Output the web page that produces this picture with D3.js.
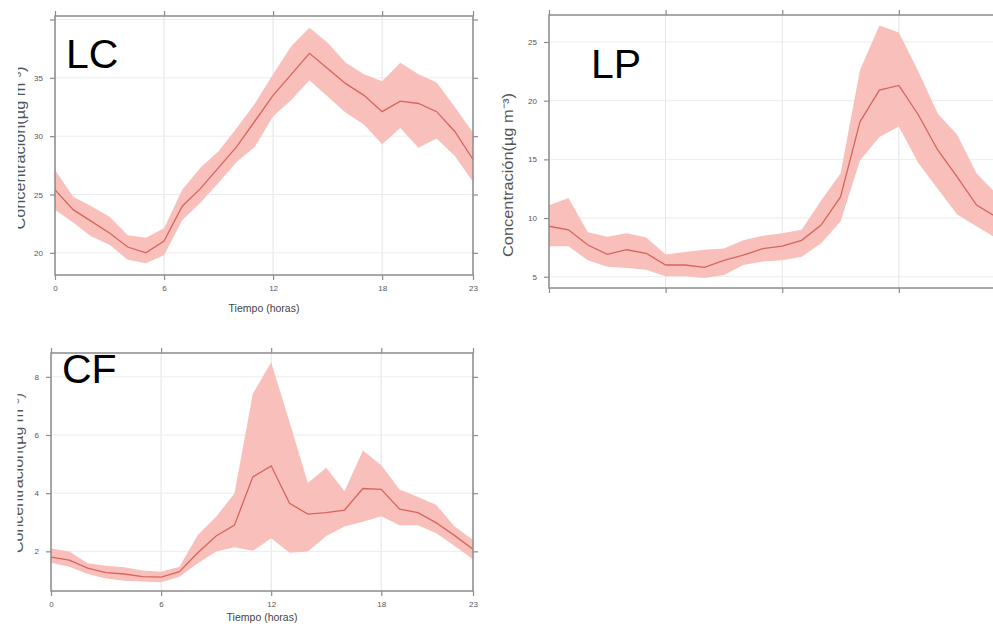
<!DOCTYPE html>
<html>
<head>
<meta charset="utf-8">
<script src="https://cdn.jsdelivr.net/npm/d3@7.9.0/dist/d3.min.js"></script>
<style>
  body { margin: 0; background: #fff; }
  svg { display: block; font-family: "Liberation Sans", Arial, sans-serif; }
</style>
</head>
<body>
<svg id="chart" width="993" height="626"></svg>
<script>
// hour of day
const hours = [0, 1, 2, 3, 4, 5, 6, 7, 8, 9, 10, 11, 12, 13, 14, 15, 16, 17, 18, 19, 20, 21, 22, 23];
const hourTicks = [0, 6, 12, 18, 23];

// LC
const lcMean  = [25.4, 23.7, 22.7, 21.7, 20.5, 20.0, 21.0, 24.0, 25.5, 27.3, 29.1, 31.3, 33.5, 35.3, 37.1, 35.8, 34.5, 33.5, 32.1, 33.0, 32.8, 32.1, 30.4, 28.0];
const lcUpper = [27.1, 24.8, 24.0, 23.1, 21.5, 21.3, 22.1, 25.4, 27.3, 28.7, 30.7, 32.8, 35.3, 37.7, 39.3, 38.0, 36.3, 35.3, 34.7, 36.3, 35.3, 34.6, 32.5, 30.3];
const lcLower = [23.7, 22.6, 21.4, 20.7, 19.4, 19.1, 19.8, 22.8, 24.3, 26.0, 27.8, 29.1, 31.7, 33.1, 34.8, 33.4, 32.0, 31.0, 29.3, 30.7, 29.0, 29.8, 28.3, 26.1];
const lcTicks = [20, 25, 30, 35, 40];

// LP
const lpMean  = [9.3, 9.0, 7.7, 6.9, 7.3, 7.0, 6.0, 6.0, 5.8, 6.4, 6.85, 7.4, 7.6, 8.1, 9.4, 11.8, 18.2, 20.9, 21.3, 18.8, 15.8, 13.5, 11.1, 10.1];
const lpUpper = [11.1, 11.7, 8.8, 8.4, 8.7, 8.35, 6.9, 7.1, 7.3, 7.4, 8.1, 8.5, 8.7, 9.0, 11.5, 13.8, 22.6, 26.4, 25.8, 22.5, 18.9, 17.1, 13.8, 12.1];
const lpLower = [7.6, 7.6, 6.4, 5.85, 5.75, 5.6, 5.05, 5.05, 4.9, 5.15, 6.0, 6.3, 6.4, 6.7, 7.85, 9.7, 14.9, 16.9, 17.8, 14.7, 12.5, 10.3, 9.3, 8.3];
const lpTicks = [5, 10, 15, 20, 25];

// CF
const cfMean  = [1.8, 1.7, 1.42, 1.27, 1.22, 1.13, 1.11, 1.3, 1.95, 2.53, 2.9, 4.56, 4.94, 3.65, 3.28, 3.33, 3.42, 4.16, 4.13, 3.45, 3.33, 2.98, 2.54, 2.07];
const cfUpper = [2.1, 1.99, 1.59, 1.5, 1.45, 1.34, 1.3, 1.47, 2.56, 3.19, 3.99, 7.42, 8.5, 6.45, 4.35, 4.87, 4.07, 5.47, 4.96, 4.13, 3.87, 3.59, 2.85, 2.39];
const cfLower = [1.61, 1.47, 1.22, 1.07, 0.99, 0.96, 0.94, 1.13, 1.59, 1.99, 2.14, 2.02, 2.45, 1.95, 1.99, 2.53, 2.85, 3.02, 3.21, 2.9, 2.9, 2.62, 2.18, 1.73];
const cfTicks = [2, 4, 6, 8];

const yTitle = 'Concentración(µg m⁻³)';
const xTitle = 'Tiempo (horas)';

const svg = d3.select('#chart');
svg.append('rect').attr('width', 993).attr('height', 626).attr('fill', '#fff');

function drawPanel(p) {
  const x = d3.scaleLinear().domain([0, 23]).range([p.x0, p.x1]);
  const y = d3.scaleLinear().domain(p.yDomain).range([p.y1, p.y0]);
  const g = svg.append('g');
  const rows = hours.map((h, i) => ({ h, m: p.mean[i], lo: p.lower[i], hi: p.upper[i] }));

  // grid
  g.selectAll('.gx').data(hourTicks).join('line')
    .attr('x1', d => x(d)).attr('x2', d => x(d))
    .attr('y1', p.y0).attr('y2', p.y1)
    .attr('stroke', '#e3e3e3').attr('stroke-width', 1);
  g.selectAll('.gy').data(p.yTicks).join('line')
    .attr('x1', p.x0).attr('x2', p.x1)
    .attr('y1', d => y(d)).attr('y2', d => y(d))
    .attr('stroke', '#ececec').attr('stroke-width', 1);

  // band + mean line
  g.append('path').datum(rows)
    .attr('d', d3.area().x(d => x(d.h)).y0(d => y(d.lo)).y1(d => y(d.hi)))
    .attr('fill', '#f9bfbb');
  g.append('path').datum(rows)
    .attr('d', d3.line().x(d => x(d.h)).y(d => y(d.m)))
    .attr('fill', 'none').attr('stroke', '#d8645d').attr('stroke-width', 1.3);

  // box
  g.append('rect')
    .attr('x', p.x0).attr('y', p.y0)
    .attr('width', p.x1 - p.x0).attr('height', p.y1 - p.y0)
    .attr('fill', 'none').attr('stroke', '#8c8c8c').attr('stroke-width', 1.5);

  // ticks, all four sides (lattice style)
  const axStyle = sel => sel.call(s => s.select('.domain').remove())
    .call(s => s.selectAll('line').attr('stroke', '#8c8c8c').attr('stroke-width', 1.2))
    .call(s => s.selectAll('text').attr('fill', '#555').attr('font-size', 8));

  g.append('g').attr('transform', `translate(0,${p.y1})`)
    .call(d3.axisBottom(x).tickValues(hourTicks).tickSize(5).tickPadding(5)
      .tickFormat(p.xLabels ? d3.format('d') : () => ''))
    .call(axStyle);
  g.append('g').attr('transform', `translate(0,${p.y0})`)
    .call(d3.axisTop(x).tickValues(hourTicks).tickSize(5).tickFormat(() => ''))
    .call(axStyle);
  g.append('g').attr('transform', `translate(${p.x0},0)`)
    .call(d3.axisLeft(y).tickValues(p.yTicks).tickSize(5).tickPadding(7)
      .tickFormat(d => p.yHidden.includes(d) ? '' : d))
    .call(axStyle);
  g.append('g').attr('transform', `translate(${p.x1},0)`)
    .call(d3.axisRight(y).tickValues(p.yTicks).tickSize(5).tickFormat(() => ''))
    .call(axStyle);

  if (p.xLabels) {
    g.append('text')
      .attr('x', (p.x0 + p.x1) / 2).attr('y', p.xTitleY)
      .attr('text-anchor', 'middle').attr('font-size', 10.5).attr('fill', '#444')
      .text(xTitle);
  }

  // y title, partly cut off at the left of the LC and CF crops
  const clipId = 'clip-' + p.name;
  svg.append('clipPath').attr('id', clipId)
    .append('rect').attr('x', p.titleClip).attr('y', 0).attr('width', 993).attr('height', 626);
  svg.append('g').attr('clip-path', `url(#${clipId})`)
    .append('text')
    .attr('transform', `translate(${p.titleX},${p.titleY}) rotate(-90)`)
    .attr('text-anchor', 'middle').attr('font-size', 15).attr('fill', '#555')
    .attr('textLength', p.titleLen).attr('lengthAdjust', 'spacingAndGlyphs')
    .text(yTitle);

  // panel name
  svg.append('text')
    .attr('x', p.nameX).attr('y', p.nameY)
    .attr('font-size', 41).attr('fill', '#000')
    .text(p.name);
}

drawPanel({
  name: 'LC', mean: lcMean, upper: lcUpper, lower: lcLower,
  yDomain: [18.1, 40.3], yTicks: lcTicks, yHidden: [40],
  x0: 55, x1: 473, y0: 16, y1: 275, xLabels: true, xTitleY: 312,
  titleX: 25, titleY: 148, titleLen: 163, titleClip: 18,
  nameX: 66, nameY: 68
});

drawPanel({
  name: 'LP', mean: lpMean, upper: lpUpper, lower: lpLower,
  yDomain: [4.04, 27.3], yTicks: lpTicks, yHidden: [],
  x0: 549, x1: 996, y0: 15, y1: 288, xLabels: false, xTitleY: 0,
  titleX: 513, titleY: 175, titleLen: 164, titleClip: 0,
  nameX: 591, nameY: 78
});

drawPanel({
  name: 'CF', mean: cfMean, upper: cfUpper, lower: cfLower,
  yDomain: [0.636, 8.82], yTicks: cfTicks, yHidden: [],
  x0: 51, x1: 473, y0: 353, y1: 591, xLabels: true, xTitleY: 621,
  titleX: 23, titleY: 473, titleLen: 160, titleClip: 17.5,
  nameX: 62, nameY: 383
});
</script>
</body>
</html>
